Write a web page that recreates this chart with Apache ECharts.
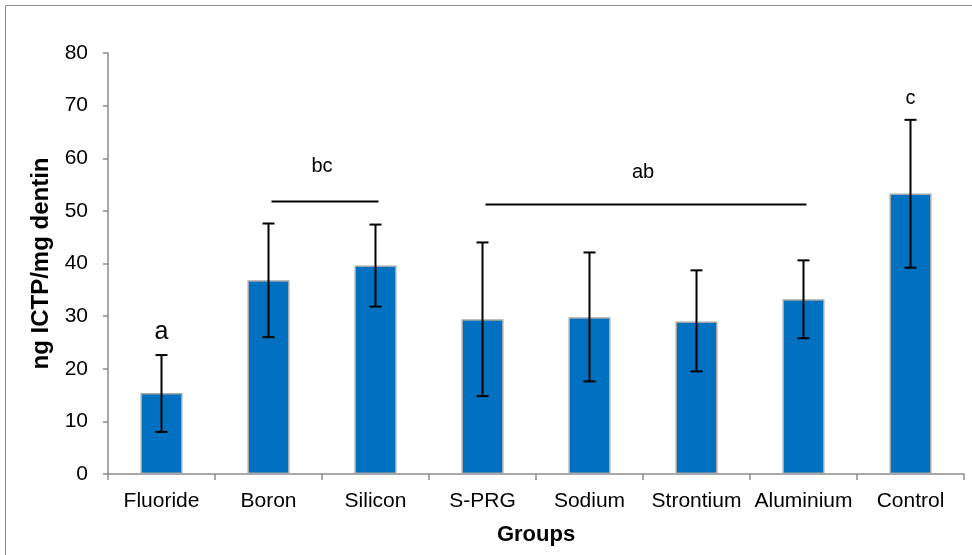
<!DOCTYPE html>
<html>
<head>
<meta charset="utf-8">
<script src="https://cdn.jsdelivr.net/npm/echarts@6/dist/echarts.min.js"></script>
<style>
  html, body { margin: 0; padding: 0; background: #fff; }
  #main { width: 972px; height: 555px; }
</style>
</head>
<body>
<div id="main"></div>
<script>
// groups and measured means
var groups = ['Fluoride', 'Boron', 'Silicon', 'S-PRG', 'Sodium', 'Strontium', 'Aluminium', 'Control'];
var means = [15.4, 36.8, 39.6, 29.4, 29.8, 29.0, 33.2, 53.3];
// error bar ends
var errLow = [8.0, 26.0, 31.8, 14.8, 17.6, 19.5, 25.8, 39.2];
var errHigh = [22.6, 47.6, 47.4, 44.0, 42.1, 38.7, 40.6, 67.3];

// significance letters: text, first group, last group, letter height, bracket height
var sigText = ['a', 'bc', 'ab', 'c'];
var sigFrom = [0, 1, 3, 7];
var sigTo = [0, 2, 6, 7];
var sigLabelY = [26.9, 58.4, 57.3, 71.3];
var sigLineY = [null, 51.8, 51.2, null];

var yTicks = [0, 80, 10];

var chart = echarts.init(document.getElementById('main'));

var errData = groups.map(function (g, i) { return [i, errLow[i], errHigh[i]]; });
var sigData = sigText.map(function (t, i) { return [sigFrom[i], sigTo[i], sigLabelY[i], sigLineY[i], t]; });

chart.setOption({
  animation: false,
  textStyle: { fontFamily: 'Liberation Sans, Arial, sans-serif' },
  graphic: [{
    type: 'rect',
    shape: { x: 5.5, y: 5.5, width: 980, height: 560 },
    style: { fill: 'none', stroke: '#8c8c8c', lineWidth: 1 },
    silent: true
  }],
  grid: { left: 108, right: 8, top: 53, bottom: 81, outerBoundsMode: 'none', containLabel: false },
  xAxis: {
    type: 'category',
    data: groups,
    name: 'Groups',
    nameLocation: 'middle',
    nameGap: 50,
    nameTextStyle: { fontSize: 22, fontWeight: 'bold', color: '#000' },
    axisLine: { lineStyle: { color: '#8c8c8c', width: 1.5 } },
    axisTick: { show: true, length: 6, lineStyle: { color: '#8c8c8c', width: 1.5 } },
    axisLabel: { fontSize: 21, color: '#000', margin: 17, interval: 0 }
  },
  yAxis: {
    type: 'value',
    min: yTicks[0],
    max: yTicks[1],
    interval: yTicks[2],
    name: 'ng ICTP/mg dentin',
    nameLocation: 'middle',
    nameGap: 54,
    nameTextStyle: { fontSize: 24, fontWeight: 'bold', color: '#000' },
    axisLine: { show: true, lineStyle: { color: '#8c8c8c', width: 1.5 } },
    axisTick: { show: true, length: 5, lineStyle: { color: '#8c8c8c', width: 1.5 } },
    axisLabel: { fontSize: 21, color: '#000', margin: 20 },
    splitLine: { show: false }
  },
  series: [
    {
      type: 'bar',
      data: means,
      barWidth: 42,
      itemStyle: { color: '#0070C0', borderColor: '#a6a6a6', borderWidth: 1.5 },
      z: 2
    },
    {
      type: 'custom',
      data: errData,
      z: 5,
      renderItem: function (params, api) {
        var lo = api.coord([api.value(0), api.value(1)]);
        var hi = api.coord([api.value(0), api.value(2)]);
        var cap = 6;
        var st = { stroke: '#000', lineWidth: 2 };
        return {
          type: 'group',
          children: [
            { type: 'line', shape: { x1: lo[0], y1: lo[1], x2: hi[0], y2: hi[1] }, style: st },
            { type: 'line', shape: { x1: lo[0] - cap, y1: lo[1], x2: lo[0] + cap, y2: lo[1] }, style: st },
            { type: 'line', shape: { x1: hi[0] - cap, y1: hi[1], x2: hi[0] + cap, y2: hi[1] }, style: st }
          ]
        };
      }
    },
    {
      type: 'custom',
      data: sigData,
      z: 6,
      renderItem: function (params, api) {
        var d = sigData[params.dataIndex];
        var a = api.coord([d[0], d[2]]);
        var b = api.coord([d[1], d[2]]);
        var cx = (a[0] + b[0]) / 2;
        var children = [{
          type: 'text',
          style: {
            text: d[4], x: cx, y: a[1],
            align: 'center', verticalAlign: 'middle',
            font: (d[4] === 'a' ? '25px' : '20px') + ' Liberation Sans, Arial, sans-serif',
            fill: '#000'
          }
        }];
        if (d[3] !== null) {
          var l1 = api.coord([d[0], d[3]]);
          var l2 = api.coord([d[1], d[3]]);
          children.push({
            type: 'line',
            shape: { x1: l1[0] + 3, y1: l1[1], x2: l2[0] + 3, y2: l2[1] },
            style: { stroke: '#000', lineWidth: 2 }
          });
        }
        return { type: 'group', children: children };
      }
    }
  ]
});
</script>
</body>
</html>
